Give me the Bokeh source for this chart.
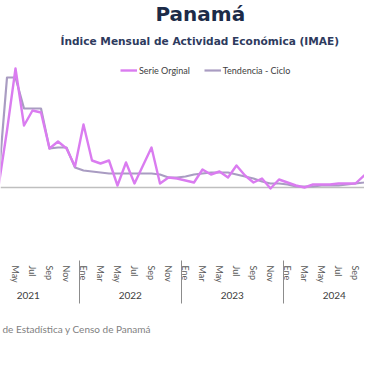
from bokeh.plotting import figure
from bokeh.models import (Range1d, LinearAxis, FixedTicker, Title, Legend,
                          LegendItem, Span)
from bokeh.embed import file_html
from bokeh.resources import INLINE

# ---- data (month index: 0 = Ene 2021) ----
month_names = ["Ene", "Feb", "Mar", "Abr", "May", "Jun",
               "Jul", "Ago", "Sep", "Oct", "Nov", "Dic"]
year_labels = ["2021", "2022", "2023", "2024"]
month_index = list(range(2, 48))          # Mar 2021 .. Dic 2024

serie_original = [1, 57, 119, 62, 77, 75, 39, 46, 39, 21,
                  63, 27, 24, 27, 2, 25, 4, 22, 40, 4, 10, 9,
                  7, 5, 18, 13, 16, 10, 22, 12, 5, 9, -1, 8,
                  5, 2, 0, 3, 3, 3, 4, 4, 4, 12, 13, 10]
tendencia_ciclo = [7, 110, 110, 79, 79, 79, 39, 40, 40, 20,
                   17, 16, 15, 14, 14, 14, 14, 14, 14, 13, 10, 10,
                   11, 13, 14, 15, 15, 15, 13, 11, 9, 6, 4, 4,
                   3, 1, 1, 1, 2, 2, 2, 3, 4, 5, 7, 8]

tick_months = list(range(2, 47, 2))
year_sep = [11.5, 23.5, 35.5]
year_centers = [5.5, 17.5, 29.5, 41.5]

PURPLE = "#da7cf0"
GREY = "#a99cc2"
NAVY = "#1c2b48"

p = figure(width=364, height=364, output_backend="svg", toolbar_location=None,
           x_axis_type=None, y_axis_type=None,
           x_range=Range1d(2.235, 45.06), y_range=Range1d(-73, 131),
           min_border_left=0, min_border_right=0,
           min_border_top=56, min_border_bottom=104)
p.outline_line_color = None
p.grid.visible = False
p.title = None

# titles
sub = Title(text="Índice Mensual de Actividad Económica (IMAE)", align="left",
            text_font="DejaVu Sans", text_font_size="10.6px",
            text_font_style="bold", text_color="#2e3b5e", standoff=20,
            offset=60)
p.add_layout(sub, "above")
main = Title(text="Panamá", align="left", text_font="DejaVu Sans",
             text_font_size="20px", text_font_style="bold", text_color=NAVY,
             standoff=-7, offset=155)
p.add_layout(main, "above")

# baseline
p.add_layout(Span(location=0, dimension="width", line_color="#bfbfbf",
                  line_width=1.5, level="underlay"))

r2 = p.line(month_index, tendencia_ciclo, line_color=GREY, line_width=2.2,
            line_join="round")
r1 = p.line(month_index, serie_original, line_color=PURPLE, line_width=2.4,
            line_join="round")

# month axis
ax_m = LinearAxis(ticker=FixedTicker(ticks=tick_months, minor_ticks=[]))
ax_m.major_label_overrides = {m: month_names[m % 12] for m in tick_months}
ax_m.major_label_orientation = "vertical"
ax_m.axis_line_color = None
ax_m.major_tick_line_color = None
ax_m.minor_tick_line_color = None
ax_m.major_tick_out = 0
ax_m.major_tick_in = 0
ax_m.minor_tick_out = 0
ax_m.minor_tick_in = 0
ax_m.major_label_standoff = 5
ax_m.major_label_text_font = "Lato"
ax_m.major_label_text_font_size = "9px"
ax_m.major_label_text_color = "#595959"
p.add_layout(ax_m, "below")

# year axis; year separators drawn as its minor ticks
ax_y = LinearAxis(ticker=FixedTicker(ticks=year_centers, minor_ticks=year_sep))
ax_y.major_label_overrides = {c: y for c, y in zip(year_centers, year_labels)}
ax_y.axis_line_color = None
ax_y.major_tick_line_color = None
ax_y.major_tick_out = 0
ax_y.major_tick_in = 0
ax_y.minor_tick_line_color = "#8c8c8c"
ax_y.minor_tick_in = 25
ax_y.minor_tick_out = 18
ax_y.major_label_standoff = -12
ax_y.major_label_text_font = "Lato"
ax_y.major_label_text_font_size = "10px"
ax_y.major_label_text_color = "#404040"
p.add_layout(ax_y, "below")

src = Title(text="de Estadística y Censo de Panamá", align="left",
            text_font="Lato", text_font_size="10px", text_font_style="normal",
            text_color="#7f7f7f", standoff=38, offset=2)
p.add_layout(src, "below")

legend = Legend(items=[LegendItem(label="Serie Orginal", renderers=[r1]),
                       LegendItem(label="Tendencia - Ciclo", renderers=[r2])],
                orientation="horizontal", location=(120, 184),
                border_line_color=None, background_fill_alpha=0,
                label_text_font="Lato", label_text_font_size="9px",
                label_text_color="#404040", glyph_width=17, glyph_height=10,
                label_height=12, spacing=14, padding=0, margin=0,
                label_standoff=2)
p.add_layout(legend)

open("out.html", "w").write(file_html(p, INLINE))
